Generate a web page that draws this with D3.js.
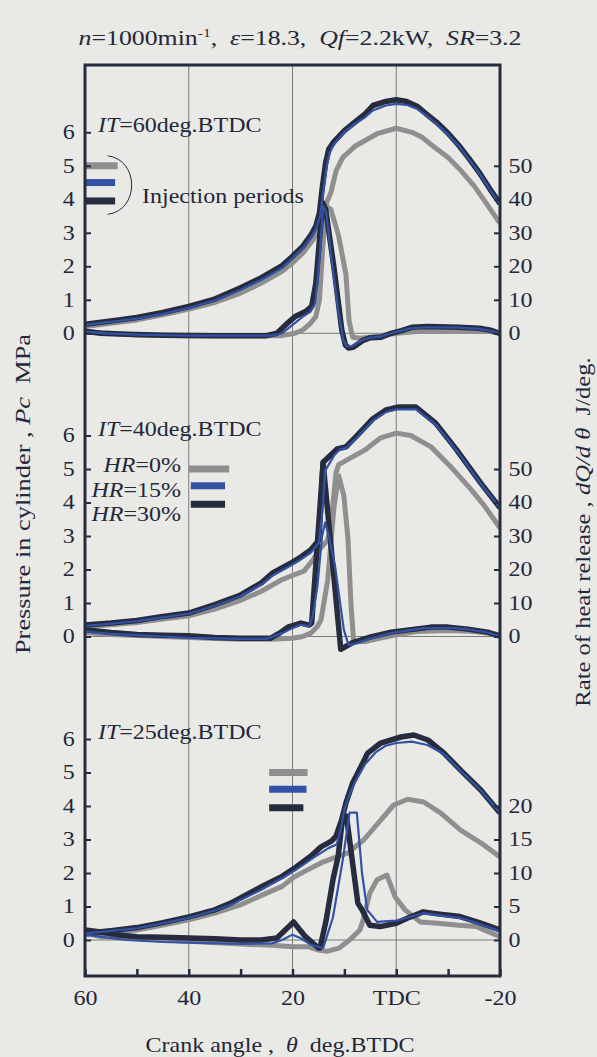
<!DOCTYPE html>
<html>
<head>
<meta charset="utf-8">
<script src="https://cdn.jsdelivr.net/npm/d3@7"></script>
<style>
  body { margin: 0; background: #e9e9e6; }
  svg { display: block; }
  text { font-family: "Liberation Serif", "Times New Roman", Times, serif; fill: #23283a; white-space: pre; }
</style>
</head>
<body>
<div id="chart"></div>
<script>
// crank angle in deg.BTDC, pressure in MPa, heat release in J/deg.

// IT = 60 deg.BTDC
const p60Gray = [[60,0.2],[55,0.3],[50,0.4],[45,0.55],[40,0.72],[35,0.92],[30,1.2],[26,1.5],[22,1.85],[20,2.1],[18,2.4],[16,2.8],[15,3.15],[14,3.6],[13.3,3.95],[12.6,4.2],[11.6,4.85],[10.3,5.25],[7.8,5.6],[3.5,5.97],[0,6.12],[-3,6.0],[-5,5.85],[-7,5.6],[-10,5.25],[-12.5,4.85],[-15,4.4],[-17.5,3.85],[-20,3.28]];
const p60Blue = [[60,0.25],[55,0.34],[50,0.44],[45,0.58],[40,0.76],[35,0.98],[30,1.3],[26,1.6],[22,1.95],[20,2.25],[18,2.55],[16.5,2.85],[15.5,3.1],[14.7,3.5],[14.1,4.2],[13.4,5.0],[12.8,5.4],[12,5.65],[10,6.0],[8,6.25],[6,6.45],[4.5,6.65],[2,6.8],[0,6.85],[-2,6.82],[-4,6.7],[-6,6.48],[-8,6.22],[-10,5.93],[-12,5.6],[-14,5.2],[-16,4.78],[-18,4.3],[-20,3.85]];
const p60Dark = [[60,0.27],[55,0.37],[50,0.47],[45,0.62],[40,0.8],[35,1.02],[30,1.36],[26,1.66],[22,2.02],[20,2.3],[18,2.6],[16.5,2.92],[15.5,3.2],[14.8,3.6],[14.3,4.3],[13.6,5.1],[13,5.5],[12,5.72],[10,6.05],[8,6.3],[6,6.55],[4.5,6.8],[2,6.92],[0,6.97],[-2,6.92],[-4,6.78],[-6,6.52],[-8,6.27],[-10,5.97],[-12,5.62],[-14,5.22],[-16,4.8],[-18,4.32],[-20,3.87]];
const q60Gray = [[60,0.5],[55,0],[50,-0.5],[40,-0.7],[30,-0.7],[22,-0.7],[19.5,0],[18,1],[16.5,3],[15.5,5],[14.8,10],[14.2,25],[13.6,38],[12.6,37],[11.1,29],[9.7,17.6],[9.1,3.8],[8.4,-1.2],[7,-1.5],[4,-1.0],[0,0],[-4,0.5],[-10,0.8],[-15,0.8],[-18,0.5],[-20,0]];
const q60Blue = [[60,0.5],[56,0],[50,-0.4],[40,-0.7],[30,-0.7],[24,-0.7],[22,0],[20,2.5],[18,5],[16.5,6.5],[15.6,9],[14.8,22],[14.1,38],[13.5,36],[12.4,21],[11.2,7],[10.2,-2],[9.6,-3.8],[8.5,-3.8],[6.5,-2],[5,-1.3],[3,-1],[1,0],[-1,0.8],[-3,1.5],[-6,1.8],[-12,1.7],[-16,1.3],[-18,0.8],[-20,0]];
const q60Dark = [[60,0.6],[57,0],[52,-0.3],[45,-0.6],[35,-0.7],[25,-0.7],[23,0],[21,3],[19.5,5],[17.5,6.5],[16.3,8],[15.5,15],[14.8,28],[14.2,39],[13.6,37],[12,19.5],[10.5,1],[9.8,-3.5],[9.2,-4.4],[8.3,-4.2],[6.5,-2.2],[5,-1.3],[3,-1.2],[1,0],[-1,0.8],[-3,1.8],[-6,2],[-12,1.8],[-16,1.5],[-18,1],[-20,0]];

// IT = 40 deg.BTDC
const p40Gray = [[60,0.3],[55,0.35],[50,0.42],[45,0.52],[40,0.62],[35,0.82],[30,1.08],[26,1.35],[22,1.7],[20,1.82],[17.8,1.95],[16,2.3],[14.9,2.58],[13.2,2.88],[12.5,3.5],[11.6,4.9],[11.1,5.13],[8.7,5.34],[5.9,5.58],[3,5.93],[0,6.07],[-2.8,6.0],[-6.7,5.66],[-10.5,5.07],[-14.4,4.39],[-17,3.9],[-20,3.24]];
const p40Blue = [[60,0.32],[55,0.38],[50,0.46],[45,0.57],[40,0.68],[35,0.92],[30,1.2],[26,1.55],[23.8,1.82],[20,2.15],[18.4,2.3],[16.5,2.5],[14.9,2.8],[14.2,3.8],[13.7,4.95],[12,5.4],[11,5.57],[9.7,5.63],[7.8,5.9],[4.5,6.45],[2,6.7],[0,6.78],[-3.8,6.78],[-7.6,6.33],[-11.5,5.58],[-16.3,4.56],[-20,3.84]];
const p40Dark = [[60,0.34],[55,0.4],[50,0.48],[45,0.6],[40,0.7],[35,0.95],[30,1.24],[26,1.6],[23.8,1.9],[20,2.22],[18.4,2.37],[16.5,2.58],[14.9,2.88],[14.1,5.2],[11.4,5.6],[9.7,5.66],[7.8,5.96],[4.5,6.5],[2,6.76],[-0.5,6.85],[-3.8,6.85],[-7.6,6.37],[-11.5,5.6],[-16.3,4.58],[-20,3.84]];
const q40Gray = [[60,1.2],[55,0.6],[50,0.3],[45,0],[40,-0.3],[35,-0.6],[30,-0.8],[24,-0.8],[20,-0.5],[18,0],[16.5,1],[15.2,3],[14.5,5],[13.2,17],[12,38.7],[11.1,48],[10.1,42],[9.3,29],[8.7,8.8],[8.2,-1.6],[6,-1.5],[3,-0.5],[0,0.5],[-4,1.5],[-10,1.8],[-15,1.5],[-18,1],[-20,0.5]];
const q40Blue = [[60,1.5],[55,0.8],[50,0.4],[45,0],[40,-0.4],[30,-0.7],[25,-0.7],[22,1],[20,2.5],[18.4,3.5],[16.8,3],[16.1,6],[15.2,15],[14.3,30],[13.7,34],[13,30],[11.8,21],[10.1,2],[9.2,-2.5],[8,-2.2],[5,-0.6],[1,1],[-5,2.4],[-10,2.6],[-14,2.1],[-17.6,1.2],[-20,0]];
const q40Dark = [[60,2],[55,1.2],[50,0.6],[45,0.4],[40,0.2],[35,-0.3],[30,-0.5],[24.2,-0.5],[22.5,1],[20.9,2.8],[18.4,4],[16.8,3.4],[16.3,4],[14.1,51.8],[10.7,-3.8],[8.4,-1.8],[4.9,-0.1],[1,1.3],[-6.7,2.8],[-10,2.8],[-13.8,2.2],[-17.6,1.3],[-20,0.1]];

// IT = 25 deg.BTDC
const p25Gray = [[60,0.15],[55,0.22],[50,0.3],[45,0.45],[40,0.6],[35,0.8],[30,1.05],[25,1.4],[22,1.6],[19.7,1.88],[17,2.1],[14.5,2.3],[12,2.45],[9.3,2.6],[6.2,3.0],[3,3.58],[0.5,4.03],[-2.2,4.2],[-5.3,4.12],[-8.6,3.79],[-12.4,3.28],[-16.3,2.9],[-20,2.48]];
const p25Blue = [[60,0.2],[55,0.27],[50,0.35],[45,0.5],[40,0.66],[35,0.88],[31.9,1.05],[26,1.5],[22,1.85],[19.3,2.1],[16,2.45],[14.5,2.6],[13,2.75],[11.5,2.85],[10.7,3.3],[10,3.9],[9,4.35],[8,4.7],[6,5.25],[4,5.6],[2,5.8],[0,5.88],[-3,5.92],[-6,5.82],[-9.2,5.55],[-12.4,5.05],[-16.3,4.47],[-20,3.79]];
const p25Dark = [[60,0.2],[55,0.28],[50,0.37],[45,0.52],[40,0.69],[35,0.9],[31.9,1.1],[26.1,1.58],[22,1.9],[19.3,2.18],[16.5,2.5],[14.5,2.78],[12.5,2.95],[11.6,3.1],[10.5,3.6],[9.7,4.09],[8.4,4.69],[7.4,4.99],[5.5,5.58],[3,5.88],[-0.9,6.06],[-3.4,6.12],[-6.1,5.97],[-9.2,5.58],[-12.4,5.07],[-16.3,4.48],[-20,3.79]];
const q25Gray = [[60,1],[57,0.5],[52,0.3],[45,0],[40,-0.2],[30,-0.6],[24,-0.8],[20,-1],[17,-1],[15,-1.5],[13.4,-1.7],[11,-1.2],[9,0],[7,1.5],[6.4,3],[5.1,7],[3.7,9],[1.8,9.7],[0.2,6.4],[-1.7,4.5],[-4.6,2.7],[-8,2.5],[-12,2.2],[-15.5,2],[-20,0.5]];
const q25Blue = [[60,0.8],[57,0.5],[52,0],[45,-0.3],[40,-0.4],[30,-0.6],[24,-0.5],[22,0],[20,0.8],[18.5,0.3],[16.5,-0.7],[14.1,-1.2],[12.2,3.4],[10.3,12],[9,19],[7.6,19],[6.6,10],[5.6,4.5],[3.7,2.7],[0,2.9],[-5.2,4.0],[-9,3.6],[-12.3,3.3],[-16,2.4],[-20,1.3]];
const q25Dark = [[60,1.5],[57,1.2],[54,0.8],[50,0.5],[45,0.4],[40,0.3],[35,0.2],[30,0],[26,0],[23,0.3],[19.8,2.7],[17.5,0.5],[15,-1.2],[14.7,-1.2],[13.5,3],[12.2,9],[11.2,12.5],[10.3,18.5],[9.6,18.5],[8.5,12],[7.4,5.5],[6.6,4.5],[5.1,2.2],[3.1,2],[0,2.5],[-2,3.2],[-5.2,4.2],[-8,3.9],[-12.3,3.5],[-16,2.6],[-20,1.5]];

// injection periods [start, end] per HR=0%, 15%, 30%
const inj60 = [[60, 53.7], [60, 54.2], [60, 54.2]];
const inj40 = [[40, 32.2], [39.6, 33.0], [39.6, 33.0]];
const inj25 = [[24.5, 17.1], [24.5, 17.3], [24.5, 17.9]];

const itLabels = ['60', '40', '25'];
const hrLabels = ['0%', '15%', '30%'];
const pTicks = [0, 1, 2, 3, 4, 5, 6];
const qTicks60 = [0, 10, 20, 30, 40, 50];
const qTicks25 = [0, 5, 10, 15, 20];
const xTicks = [60, 50, 40, 30, 20, 10, 0, -10, -20];

const colors = { gray: '#8f8f8f', blue: '#3352a6', dark: '#262c3e' };
const ink = '#262c3e';
const serif = '"Liberation Serif", "Times New Roman", Times, serif';

const panels = [
    { it: itLabels[0], p: [p60Gray, p60Blue, p60Dark], q: [q60Gray, q60Blue, q60Dark], qMax: 80, qTicks: qTicks60, inj: inj60 },
    { it: itLabels[1], p: [p40Gray, p40Blue, p40Dark], q: [q40Gray, q40Blue, q40Dark], qMax: 80, qTicks: qTicks60, inj: inj40 },
    { it: itLabels[2], p: [p25Gray, p25Blue, p25Dark], q: [q25Gray, q25Blue, q25Dark], qMax: 40, qTicks: qTicks25, inj: inj25 },
];

//2 - dimensions
let dimensions = {
    width: 597,
    height: 1057,
    left: 85,
    right: 500,
    top: 65,
    bottom: 976,
};
const zeroY = [333.3, 636.5, 940];
const mpaPx = 33.5;
const stretch = 'scale(1.2,1)';

const svg = d3.select('#chart').append('svg')
    .attr('width', dimensions.width)
    .attr('height', dimensions.height);

svg.append('rect')
    .attr('width', dimensions.width)
    .attr('height', dimensions.height)
    .attr('fill', '#e9e9e6');

svg.append('clipPath').attr('id', 'frame-clip')
    .append('rect')
    .attr('x', dimensions.left)
    .attr('y', dimensions.top)
    .attr('width', dimensions.right - dimensions.left)
    .attr('height', dimensions.bottom - dimensions.top);

const xScale = d3.scaleLinear()
    .domain([60, -20])
    .range([dimensions.left, dimensions.right]);

// text with italic parts, stretched a bit like the printed figure
function addText(g, x, y, parts, anchor = 'start', size = 20, rot = 0) {
    const t = g.append('text')
        .attr('transform', `translate(${x},${y}) rotate(${rot}) ${stretch}`)
        .attr('text-anchor', anchor)
        .style('font-family', serif)
        .style('font-size', size + 'px');
    parts.forEach(([s, it]) => {
        t.append('tspan').text(s).style('font-style', it ? 'italic' : 'normal');
    });
    return t;
}

function styleTicks(axis) {
    axis.select('.domain').remove();
    axis.attr('font-family', null);
    axis.selectAll('line').attr('stroke', ink).attr('stroke-width', 2);
    axis.selectAll('text')
        .attr('transform', stretch)
        .style('font-size', '20px')
        .style('font-family', serif)
        .attr('fill', ink);
}

// grid
const grid = svg.append('g');
[40, 20, 0].forEach(d => {
    grid.append('line')
        .attr('x1', xScale(d)).attr('x2', xScale(d))
        .attr('y1', dimensions.top).attr('y2', dimensions.bottom)
        .attr('stroke', '#6e6e6e').attr('stroke-width', 0.9);
});
zeroY.forEach(y0 => {
    grid.append('line')
        .attr('x1', dimensions.left).attr('x2', dimensions.right)
        .attr('y1', y0).attr('y2', y0)
        .attr('stroke', '#6e6e6e').attr('stroke-width', 0.9);
});

const curves = svg.append('g').attr('clip-path', 'url(#frame-clip)');
const seriesColors = [colors.gray, colors.blue, colors.dark];
const seriesWidths = [5, 2.2, 5.5];
const drawOrder = [0, 2, 1]; // gray, dark, then thin blue on top

panels.forEach((panel, i) => {
    const y0 = zeroY[i];
    const yP = d3.scaleLinear().domain([0, 8]).range([y0, y0 - 8 * mpaPx]);
    const yQ = d3.scaleLinear().domain([0, panel.qMax]).range([y0, y0 - 8 * mpaPx]);

    const lineP = d3.line().x(d => xScale(d[0])).y(d => yP(d[1]));
    const lineQ = d3.line().x(d => xScale(d[0])).y(d => yQ(d[1]));

    drawOrder.forEach(k => {
        [lineP(panel.p[k]), lineQ(panel.q[k])].forEach(path => {
            curves.append('path')
                .attr('d', path)
                .attr('fill', 'none')
                .attr('stroke', seriesColors[k])
                .attr('stroke-width', seriesWidths[k])
                .attr('stroke-linejoin', 'round');
        });
    });

    // injection period bars
    const barLevels = [5.0, 4.5, 3.95];
    panel.inj.forEach((r, k) => {
        svg.append('line')
            .attr('x1', xScale(r[0])).attr('x2', xScale(r[1]))
            .attr('y1', yP(barLevels[k])).attr('y2', yP(barLevels[k]))
            .attr('stroke', seriesColors[k])
            .attr('stroke-width', 7);
    });

    // left axis (pressure)
    const yAxisGenerator = d3.axisLeft(yP)
        .tickValues(pTicks)
        .tickSizeInner(-6)
        .tickSizeOuter(0)
        .tickPadding(8.5);
    const yAxis = svg.append('g')
        .attr('transform', `translate(${dimensions.left},0)`)
        .call(yAxisGenerator);
    styleTicks(yAxis);

    // right axis (heat release)
    const qAxisGenerator = d3.axisRight(yQ)
        .tickValues(panel.qTicks)
        .tickSizeInner(-6)
        .tickSizeOuter(0)
        .tickPadding(7);
    const qAxis = svg.append('g')
        .attr('transform', `translate(${dimensions.right},0)`)
        .call(qAxisGenerator);
    styleTicks(qAxis);

    addText(svg, 98, y0 - 201, [['IT', true], ['=' + panel.it + 'deg.BTDC', false]]);
});

// injection periods note (first panel)
{
    const y0 = zeroY[0];
    const yTop = y0 - 5.3 * mpaPx, yBot = y0 - 3.55 * mpaPx;
    const xa = xScale(inj60[0][1]) - 10;
    svg.append('path')
        .attr('d', `M${xa},${yTop} C${xa + 32},${yTop + 4} ${xa + 32},${yBot - 4} ${xa},${yBot}`)
        .attr('fill', 'none')
        .attr('stroke', ink)
        .attr('stroke-width', 1);
    addText(svg, 142, y0 - 130, [['Injection periods', false]]);
}

// HR legend (second panel)
[-164.5, -139.5, -115.5].forEach((dy, k) => {
    addText(svg, 181, zeroY[1] + dy, [['HR', true], ['=' + hrLabels[k], false]], 'end');
});

// bottom axis
const xAxisGenerator = d3.axisBottom(xScale)
    .tickValues(xTicks)
    .tickSizeInner(-7)
    .tickSizeOuter(0)
    .tickPadding(15)
    .tickFormat(d => d === 0 ? 'TDC' : (d % 20 === 0 ? String(d) : ''));
const xAxis = svg.append('g')
    .attr('transform', `translate(0,${dimensions.bottom})`)
    .call(xAxisGenerator);
styleTicks(xAxis);
xAxis.selectAll('line').attr('stroke-width', 2.5);

// frame
svg.append('rect')
    .attr('x', dimensions.left)
    .attr('y', dimensions.top)
    .attr('width', dimensions.right - dimensions.left)
    .attr('height', dimensions.bottom - dimensions.top)
    .attr('fill', 'none')
    .attr('stroke', ink)
    .attr('stroke-width', 3);

// titles
const title = svg.append('text')
    .attr('transform', `translate(300,45) ${stretch}`)
    .attr('text-anchor', 'middle')
    .style('font-family', serif)
    .style('font-size', '21.5px');
title.append('tspan').text('n').style('font-style', 'italic');
title.append('tspan').text('=1000min');
title.append('tspan').text('-1').attr('dy', -8).style('font-size', '13px');
title.append('tspan').text(',  ').attr('dy', 8);
title.append('tspan').text('ε').style('font-style', 'italic');
title.append('tspan').text('=18.3,  ');
title.append('tspan').text('Qf').style('font-style', 'italic');
title.append('tspan').text('=2.2kW,  ');
title.append('tspan').text('SR').style('font-style', 'italic');
title.append('tspan').text('=3.2');

addText(svg, 30, 494, [['Pressure in cylinder , ', false], ['Pc', true], ['  MPa', false]], 'middle', 22, -90);
addText(svg, 590, 532, [['Rate of heat release , ', false], ['dQ/d θ', true], ['  J/deg.', false]], 'middle', 20.5, -90);
addText(svg, 280, 1052, [['Crank angle ,  ', false], ['θ', true], ['  deg.BTDC', false]], 'middle', 20);
</script>
</body>
</html>
